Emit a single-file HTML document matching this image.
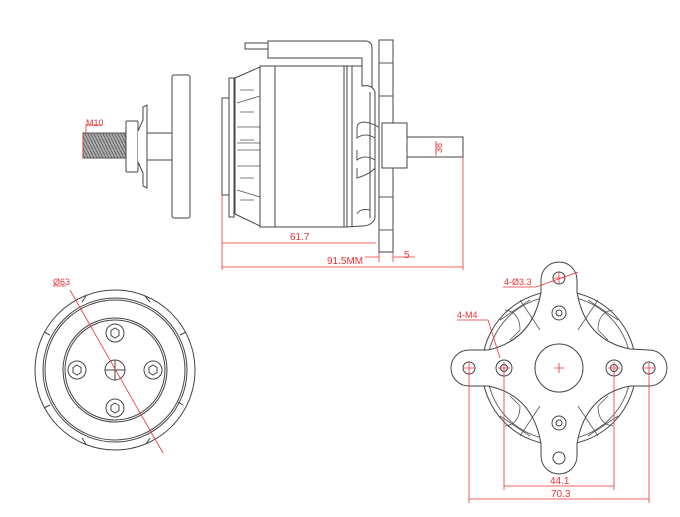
<!DOCTYPE html>
<html><head><meta charset="utf-8"><style>
html,body{margin:0;padding:0;background:#fff;}
svg{display:block}
text{font-family:"Liberation Sans",sans-serif;fill:#e33;}
</style></head><body>
<svg width="680" height="517" viewBox="0 0 680 517" xmlns="http://www.w3.org/2000/svg">
<defs>
<pattern id="thr" width="3" height="6" patternUnits="userSpaceOnUse">
<rect width="3" height="6" fill="#aaa"/><path d="M0 0L3 6" stroke="#555" stroke-width="0.8"/>
</pattern>
</defs>
<g fill="none" stroke="#444" stroke-width="1">
<!-- prop adapter -->
<rect x="83" y="133" width="43" height="25" fill="url(#thr)" stroke="#555"/>
<rect x="126" y="121" width="12" height="51" rx="1" fill="#fff"/>
<path d="M138 131 L143 120 L143 107 L147 105 L147 188 L143 186 L143 173 L138 162" fill="#fff"/>
<rect x="147" y="133" width="25" height="27" fill="#fff"/>
<rect x="172" y="75" width="18" height="143" rx="2" fill="#fff"/>
<!-- wire -->
<rect x="245" y="43" width="23" height="6" fill="#fff"/>
<path d="M268 41 L365 41 Q372 41 372 48 L372 88 L362 88 L362 58 L268 58 Z" fill="#fff"/>
<!-- motor -->
<rect x="222" y="98" width="7" height="97" fill="#fff"/>
<rect x="229" y="78" width="5" height="139" fill="#fff"/>
<path d="M235 78 L260 67 L260 226 L235 214 Z" fill="#fff"/>
<path d="M237 103 L260 96 M237 190 L260 197 M237 127 L260 127 M237 166 L260 166 M237 150 L260 150 M237 143 L260 143 M240 112 L254 112 M240 140 L254 140 M240 178 L254 178 M240 200 L254 200 M240 90 L254 90" stroke="#555" stroke-width="0.8"/>
<rect x="260" y="66" width="87" height="161" fill="#fff"/>
<line x1="275" y1="66" x2="275" y2="227"/>
<line x1="344" y1="66" x2="344" y2="227"/>
<path d="M347 66 L362 66 L362 86 Q372 84 375 92 L375 218 Q372 226 362 226 L347 227 Z" fill="#fff"/>
<line x1="352" y1="66" x2="352" y2="227"/>
<line x1="370" y1="92" x2="370" y2="218"/>
<path d="M357 128 Q357 122 365 122 Q375 124 380 128 M357 128 L357 138 Q365 132 375 138 M357 150 L357 160 Q365 154 375 160 M357 168 L357 178 Q370 174 375 168 M357 214 Q360 208 370 210" stroke="#555"/>
<rect x="379" y="40" width="14" height="212" fill="#fff"/>
<path d="M379 63 L393 63 M379 96 L393 96 M379 197 L393 197 M379 230 L393 230" stroke="#555"/>
<rect x="382" y="123" width="25" height="45" fill="#fff"/>
<rect x="407" y="137" width="56" height="20" fill="#fff"/>

<!-- front view -->
<circle cx="115" cy="370" r="80"/>
<circle cx="115" cy="370" r="72"/>
<circle cx="115" cy="370" r="70"/>
<circle cx="115" cy="370" r="52"/>
<circle cx="115" cy="370" r="50"/>
<path d="M82 302 L86 296 M145 296 L150 302 M180 335 L186 332 M183 405 L178 402 M150 438 L146 444 M82 438 L86 444 M50 405 L44 408 M44 332 L50 335" />
<circle cx="115" cy="370" r="10"/><path d="M105 370 L125 370 M115 360 L115 380"/>
<g>
<circle cx="115" cy="333" r="9"/><polygon points="115,328 119,330.5 119,335.5 115,338 111,335.5 111,330.5"/>
<circle cx="115" cy="408" r="9"/><polygon points="115,403 119,405.5 119,410.5 115,413 111,410.5 111,405.5"/>
<circle cx="77" cy="370" r="9"/><polygon points="77,365 81,367.5 81,372.5 77,375 73,372.5 73,367.5"/>
<circle cx="153" cy="370" r="9"/><polygon points="153,365 157,367.5 157,372.5 153,375 149,372.5 149,367.5"/>
</g>

<!-- back view -->
<circle cx="559" cy="368" r="77"/>
<circle cx="559" cy="368" r="72" stroke="#666"/>
<path d="M559 262 a18 18 0 0 1 18 18 L577 292 Q585 340 630 349 L649 350 a18 18 0 0 1 0 36 L630 386 Q585 395 577 444 L577 456 a18 18 0 0 1 -36 0 L541 444 Q533 395 488 386 L469 386 a18 18 0 0 1 0 -36 L488 350 Q533 340 541 292 L541 280 a18 18 0 0 1 18 -18 Z" fill="#fff"/>
<path d="M505 310 Q520 312 520 330 L510 340 M613 310 Q598 312 598 330 L608 340 M505 426 Q520 424 520 406 L510 396 M613 426 Q598 424 598 406 L608 396 M500 320 L530 300 M618 320 L588 300 M500 416 L530 436 M618 416 L588 436 M520 300 L540 330 M598 300 L578 330 M520 436 L540 406 M598 436 L578 406" stroke="#555" stroke-width="0.8"/>
<circle cx="559" cy="368" r="24"/>
<circle cx="559" cy="313" r="7"/><circle cx="559" cy="313" r="3"/>
<circle cx="559" cy="423" r="7"/><circle cx="559" cy="423" r="3"/>
<circle cx="504" cy="368" r="8"/><circle cx="504" cy="368" r="3.5"/>
<circle cx="614" cy="368" r="8"/><circle cx="614" cy="368" r="3.5"/>
<circle cx="469" cy="368" r="6"/><circle cx="649" cy="368" r="6"/>
<circle cx="559" cy="458" r="6"/><circle cx="559" cy="278" r="6"/>
</g>

<!-- red dims -->
<g fill="none" stroke="#e33" stroke-width="0.8">
<path d="M83 134 L83 157 M86 133 L86 125 L102 125"/>
<path d="M222 195 L222 270 M463 157 L463 270 M379 252 L379 262 M393 252 L393 262"/>
<path d="M222 243 L376 243 M222 267 L463 267 M365 257 L379 257 M393 257 L415 257"/>
<path d="M436 141 L436 156"/>
<path d="M70 290 L163 453 M53 286 L66 286"/>
<path d="M554 368 L564 368 M559 363 L559 373 M498 368 L510 368 M504 362 L504 374 M608 368 L620 368 M614 362 L614 374 M463 368 L475 368 M469 362 L469 374 M643 368 L655 368 M649 362 L649 374 M553 278 L565 278 M559 272 L559 284"/>
<path d="M504 372 L504 490 M614 372 L614 490 M469 372 L469 503 M649 372 L649 503 M504 486 L614 486 M469 499 L649 499"/>
<path d="M503 287 L536 287 L578 272 M457 320 L488 320 L500 358"/>
</g>
<text x="86" y="126" font-size="9">M10</text>
<text x="290" y="240" font-size="10">61.7</text>
<text x="327" y="264" font-size="10">91.5MM</text>
<text x="404" y="258" font-size="10">5</text>
<text x="442" y="153" font-size="9" transform="rotate(-90 442 153)">38</text>
<text x="53" y="285" font-size="9">Ø63</text>
<text x="504" y="285" font-size="9">4-Ø3.3</text>
<text x="457" y="318" font-size="9">4-M4</text>
<text x="550" y="484" font-size="10">44.1</text>
<text x="551" y="497" font-size="10">70.3</text>
</svg>
</body></html>
